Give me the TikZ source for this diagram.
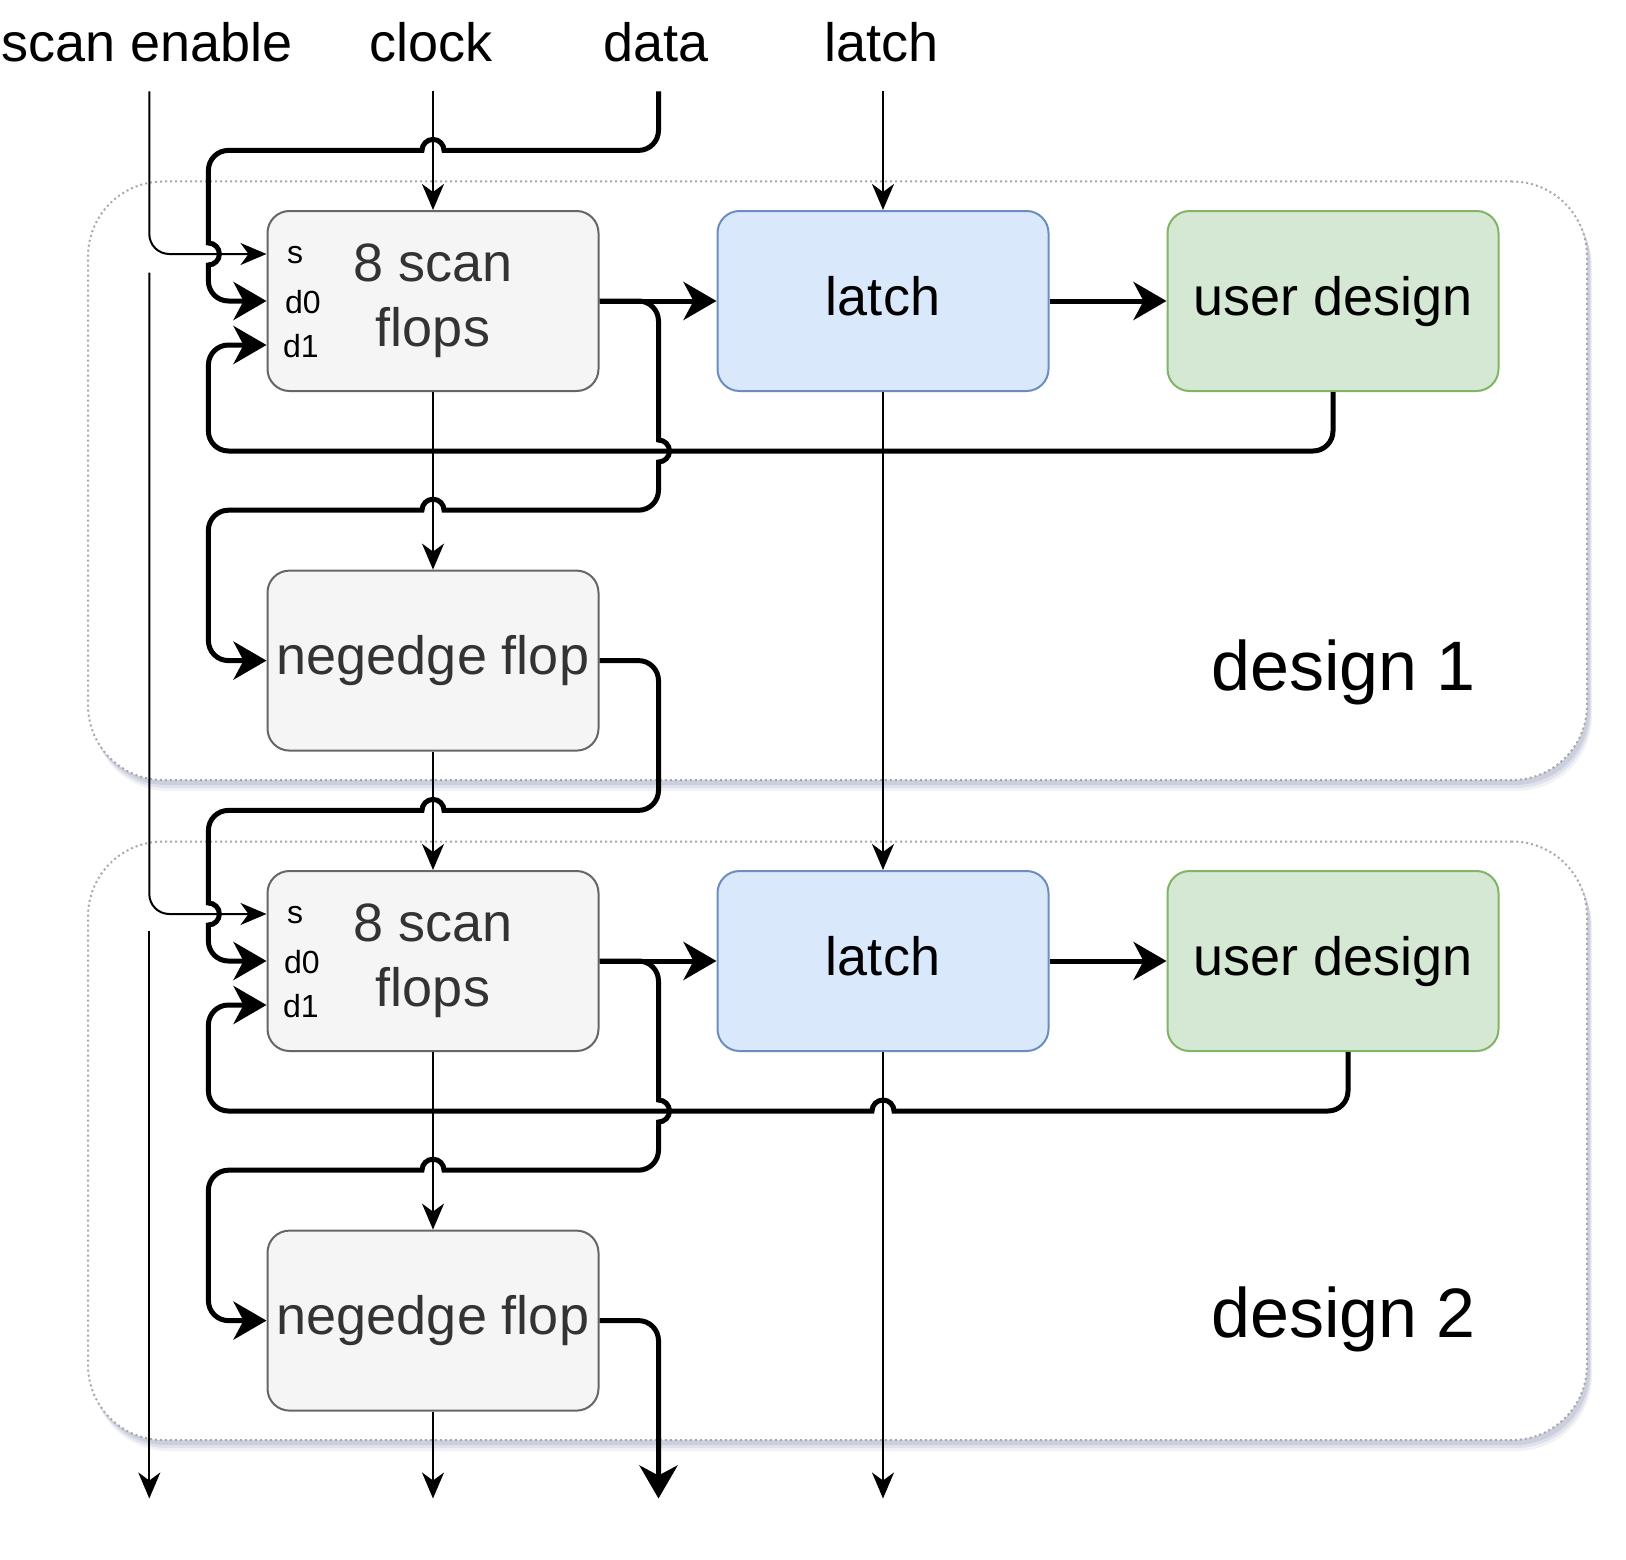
\documentclass[tikz,border=0pt]{standalone}
\usepackage{fontspec}
\setmainfont{Liberation Sans}
\usetikzlibrary{arrows.meta,shadows}
\definecolor{gfill}{HTML}{F5F5F5}
\definecolor{gdraw}{HTML}{666666}
\definecolor{gtext}{HTML}{333333}
\definecolor{bfill}{HTML}{DAE8FC}
\definecolor{bdraw}{HTML}{6C8EBF}
\definecolor{grfill}{HTML}{D5E8D4}
\definecolor{grdraw}{HTML}{82B366}
\definecolor{contc}{HTML}{A8A8A8}
\definecolor{shadowc}{HTML}{8F98B8}
\begin{document}
\begin{tikzpicture}[x=1pt,y=-1pt,
  box/.style={draw, line width=2pt, rounded corners=22pt, minimum width=331pt, minimum height=180pt, inner sep=0pt, font=\fontsize{54}{65}\selectfont},
  grayb/.style={box, fill=gfill, draw=gdraw, text=gtext},
  blueb/.style={box, fill=bfill, draw=bdraw, text=black, text height=39pt, text depth=11pt},
  greenb/.style={box, fill=grfill, draw=grdraw, text=black, text height=39pt, text depth=11pt},
  cont/.style={draw=contc, line width=2pt, dash pattern=on 2pt off 3pt, rounded corners=75pt, fill=white, minimum width=1499pt, minimum height=598.5pt, inner sep=0pt,
    drop shadow={shadow xshift=5pt, shadow yshift=-11pt, opacity=0.12, fill=shadowc},
    drop shadow={shadow xshift=4pt, shadow yshift=-8pt, opacity=0.18, fill=shadowc},
    drop shadow={shadow xshift=3pt, shadow yshift=-5pt, opacity=0.25, fill=shadowc}},
  toplbl/.style={font=\fontsize{54}{65}\selectfont, inner sep=0pt, anchor=base},
  port/.style={font=\fontsize{32}{38}\selectfont, inner sep=0pt, anchor=base west, text=black},
  dlbl/.style={font=\fontsize{70}{80}\selectfont, inner sep=0pt, anchor=base west},
  thinA/.style={line width=2pt, -{Stealth[length=26pt,width=22pt,inset=8pt]}},
  thickA/.style={line width=5pt, -{Stealth[length=33pt,width=38pt,inset=10pt]}},
  rc/.style={rounded corners=20pt}
]
\useasboundingbox (0,0) rectangle (1626,1560);

% containers
\node[cont] (c1) at (837.5,480.75) {};
\node[cont] (c2) at (837.5,1140.75) {};
\node[dlbl] (dl1) at (1211,690) {design 1};
\node[dlbl] (dl2) at (1211,1337) {design 2};

% top labels and line ends
\node[toplbl] (tse) at (146.7,62) {scan enable};
\node[toplbl] (tck) at (431.4,62) {clock};
\node[toplbl] (tdt) at (656.4,62) {data};
\node[toplbl] (tla) at (881.5,62) {latch};
\coordinate (cse) at (149.3,91.3);
\coordinate (cck) at (433,91.3);
\coordinate (cdt) at (658.5,91.3);
\coordinate (cla) at (883,91.3);
\coordinate (se2) at (149.3,272.7);
\coordinate (se3) at (149.3,931);
\coordinate (oSE) at (149.3,1498.5);
\coordinate (oCK) at (433,1498.5);
\coordinate (oDT) at (658.5,1498.5);
\coordinate (oLA) at (883,1498.5);

% design 1 boxes
\node[grayb, align=center] (sf1) at (433,301) {8 scan\\flops};
\node[blueb] (la1) at (883,301) {latch};
\node[greenb] (ud1) at (1333,301) {user design};
\node[grayb, text height=39pt, text depth=11pt] (nf1) at (433,660.6) {negedge flop};
\node[port] (p1s) at (287,263) {s};
\node[port] (p1a) at (285,313) {d0};
\node[port] (p1b) at (283,357.7) {d1};

% design 2 boxes
\node[grayb, align=center] (sf2) at (433,961) {8 scan\\flops};
\node[blueb] (la2) at (883,961) {latch};
\node[greenb] (ud2) at (1333,961) {user design};
\node[grayb, text height=39pt, text depth=11pt] (nf2) at (433,1320.6) {negedge flop};
\node[port] (p2s) at (287,923) {s};
\node[port] (p2a) at (284,973) {d0};
\node[port] (p2b) at (283,1017.7) {d1};

% scan enable
\draw[thinA, rc] (cse) |- ([yshift=47pt]sf1.west);
\draw[thinA, rc] (se2) |- ([yshift=47pt]sf2.west);
\draw[thinA] (se3) -- (oSE);

% clock
\draw[thinA] (cck) -- (sf1.north);
\draw[thinA] (sf1.south) -- (nf1.north);
\draw[thinA] (nf1.south) -- (sf2.north);
\draw[thinA] (sf2.south) -- (nf2.north);
\draw[thinA] (nf2.south) -- (oCK);

% latch
\draw[thinA] (cla) -- (la1.north);
\draw[thinA] (la1.south) -- (la2.north);
\draw[thinA] (la2.south) -- (oLA);

% data in
\draw[thickA] (cdt) -- (658.5,130.4) arc[start angle=0,end angle=-90,radius=20pt]
  -- (444,150.4) arc[start angle=0,end angle=180,radius=11pt]
  -- (228.4,150.4) arc[start angle=90,end angle=180,radius=20pt]
  -- (208.4,243) arc[start angle=90,end angle=-90,radius=11pt]
  -- (208.4,281) arc[start angle=180,end angle=270,radius=20pt]
  -- (sf1.west);

% design 1 flow
\draw[thickA] (sf1.east) -- (la1.west);
\draw[thickA] (la1.east) -- (ud1.west);
\draw[thickA] (sf1.east) -- (638.5,301) arc[start angle=90,end angle=0,radius=20pt]
  -- (658.5,440) arc[start angle=90,end angle=-90,radius=11pt]
  -- (658.5,490.2) arc[start angle=0,end angle=-90,radius=20pt]
  -- (444,510.2) arc[start angle=0,end angle=180,radius=11pt]
  -- (228.4,510.2) arc[start angle=90,end angle=180,radius=20pt]
  -- (208.4,640.6) arc[start angle=180,end angle=270,radius=20pt]
  -- (nf1.west);
\draw[thickA, rc] (ud1.south) -- (1333,451) -- (208.4,451) -- (208.4,345) -- ([yshift=-44pt]sf1.west);
\draw[thickA] (nf1.east) -- (638.5,660.6) arc[start angle=90,end angle=0,radius=20pt]
  -- (658.5,790.4) arc[start angle=0,end angle=-90,radius=20pt]
  -- (444,810.4) arc[start angle=0,end angle=180,radius=11pt]
  -- (228.4,810.4) arc[start angle=90,end angle=180,radius=20pt]
  -- (208.4,903) arc[start angle=90,end angle=-90,radius=11pt]
  -- (208.4,941) arc[start angle=180,end angle=270,radius=20pt]
  -- (sf2.west);

% design 2 flow
\draw[thickA] (sf2.east) -- (la2.west);
\draw[thickA] (la2.east) -- (ud2.west);
\draw[thickA] (sf2.east) -- (638.5,961) arc[start angle=90,end angle=0,radius=20pt]
  -- (658.5,1100) arc[start angle=90,end angle=-90,radius=11pt]
  -- (658.5,1150.2) arc[start angle=0,end angle=-90,radius=20pt]
  -- (444,1170.2) arc[start angle=0,end angle=180,radius=11pt]
  -- (228.4,1170.2) arc[start angle=90,end angle=180,radius=20pt]
  -- (208.4,1300.6) arc[start angle=180,end angle=270,radius=20pt]
  -- (nf2.west);
\draw[thickA] ([xshift=15pt]ud2.south) -- (1348,1091) arc[start angle=0,end angle=-90,radius=20pt]
  -- (894,1111) arc[start angle=0,end angle=180,radius=11pt]
  -- (228.4,1111) arc[start angle=270,end angle=180,radius=20pt]
  -- (208.4,1025) arc[start angle=180,end angle=90,radius=20pt]
  -- ([yshift=-44pt]sf2.west);
\draw[thickA, rc] (nf2.east) -- (658.5,1320.6) -- (oDT);
\end{tikzpicture}
\end{document}
